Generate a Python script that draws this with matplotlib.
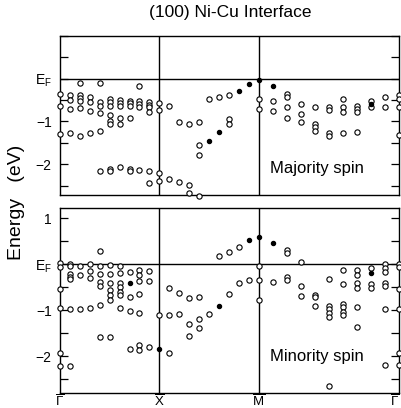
import matplotlib
matplotlib.use('Agg')
import matplotlib.pyplot as plt
import matplotlib.transforms as mtransforms
import numpy as np

plt.rcParams['font.family'] = ['Liberation Sans', 'DejaVu Sans']
plt.rcParams['mathtext.fontset'] = 'custom'
plt.rcParams['mathtext.rm'] = 'Liberation Sans'
plt.rcParams['mathtext.it'] = 'Liberation Sans:italic'

# symmetry points along the path G - X - M - G (distance in units of G-X)
sym_labels = [r'$\overline{\Gamma}$', r'$\overline{\mathrm{X}}$',
              r'$\overline{\mathrm{M}}$', r'$\overline{\Gamma}$']
sym_pos = [0.0, 1.0, 2.0, 2.0 + np.sqrt(2)]

# energies (eV rel. to E_F), one list per k point, 10 steps on each leg
majority_open = [
    [-0.36, -0.64, -1.30],
    [-0.38, -0.49, -0.71, -1.28],
    [-0.11, -0.39, -0.46, -0.52, -0.69, -1.33],
    [-0.42, -0.55, -0.75, -1.28],
    [-0.10, -0.54, -0.64, -0.81, -1.22, -2.17],
    [-0.47, -0.55, -0.64, -0.85, -1.00, -1.07, -2.10, -2.16],
    [-0.49, -0.56, -0.64, -0.91, -1.07, -2.07],
    [-0.51, -0.57, -0.63, -0.91, -2.10, -2.15],
    [-0.16, -0.53, -0.60, -0.67, -2.14],
    [-0.54, -0.62, -0.67, -0.77, -2.17, -2.43],
    [-0.56, -0.72, -2.21, -2.40],
    [-0.63, -2.35],
    [-1.01, -2.41],
    [-1.05, -2.48, -2.67],
    [-1.01, -1.56, -1.78, -2.74],
    [-0.47],
    [-0.42],
    [-0.38, -0.94, -1.05],
    [],
    [],
    [-0.47, -0.71],
    [-0.53, -0.76],
    [-0.36, -0.43, -0.65, -0.91],
    [-0.60, -0.82, -1.01],
    [-0.67, -1.07, -1.12, -1.23],
    [-0.67, -0.72, -1.27, -1.34],
    [-0.47, -0.67, -0.78, -1.27],
    [-0.64, -0.70, -0.78, -1.25],
    [-0.51, -0.65],
    [-0.43, -0.67],
    [-0.38, -0.47, -0.67, -1.31],
]
majority_filled_k = [15, 16, 18, 19, 20, 21, 28]
majority_filled_E = [-1.45, -1.25, -0.28, -0.12, -0.04, -0.17, -0.58]

minority_open = [
    [0.03, -0.07, -0.53, -0.96, -1.94, -2.21],
    [0.01, -0.04, -0.21, -0.28, -0.33, -0.97, -2.21],
    [-0.04, -0.24, -0.97],
    [0.01, -0.15, -0.30, -0.96],
    [0.28, -0.04, -0.22, -0.38, -0.48, -0.89, -1.58],
    [-0.02, -0.22, -0.42, -0.57, -0.67, -0.77, -1.58],
    [-0.04, -0.20, -0.42, -0.49, -0.60, -0.67, -0.96],
    [-0.17, -0.71, -1.02, -1.85],
    [-0.13, -0.24, -0.37, -0.64, -1.07, -1.76, -1.87],
    [-0.15, -0.37, -1.80],
    [-1.11],
    [-0.51, -1.11, -1.92],
    [-0.62, -1.09],
    [-0.73, -1.30, -1.56],
    [-0.71, -1.20, -1.38],
    [-1.09],
    [0.18],
    [0.27, -0.64],
    [0.38, -0.42],
    [-0.35],
    [-0.04, -0.35, -0.77],
    [-0.38],
    [0.31, 0.25, -0.28, -0.34],
    [0.05, -0.48, -0.70],
    [-0.66, -0.72, -0.91],
    [-0.33, -0.90, -0.97, -1.07, -1.15, -2.64],
    [-0.13, -0.44, -0.86, -0.93, -1.04, -1.10],
    [-0.13, -0.24, -0.41, -0.51, -0.93, -1.36],
    [-0.09, -0.43, -0.52],
    [0.00, -0.09, -0.16, -0.40, -0.48, -0.98, -2.20],
    [0.01, -0.07, -0.55, -0.97, -1.94, -2.20],
]
minority_filled_k = [7, 10, 16, 19, 20, 21, 28]
minority_filled_E = [-0.41, -1.85, -0.91, 0.52, 0.58, 0.47, -0.19]


def kpos(i):
    # k index 0..30 -> distance along the path
    i = np.asarray(i, dtype=float)
    return np.where(i <= 20, i / 10.0, 2.0 + (i - 20) / 10.0 * np.sqrt(2))


def flatten(cols):
    ks, es = [], []
    for i, col in enumerate(cols):
        ks += [i] * len(col)
        es += col
    return kpos(ks), np.array(es)


fig = plt.figure(figsize=(4.01, 4.08), dpi=100)
ax1 = fig.add_axes([60/401, 1 - 195/408, 339/401, 159/408])
ax2 = fig.add_axes([60/401, 1 - 393/408, 339/401, 185/408])

panels = [
    (ax1, majority_open, majority_filled_k, majority_filled_E, (-2.72, 0.74),
     [-2, -1, 0], ['\u22122', '\u22121', r'E$_\mathrm{F}$'], 'Majority spin', -2.09),
    (ax2, minority_open, minority_filled_k, minority_filled_E, (-2.80, 1.22),
     [-2, -1, 0, 1], ['\u22122', '\u22121', r'E$_\mathrm{F}$', '1'], 'Minority spin', -2.0),
]

for ax, opn, fk, fe, ylim, yt, ytl, label, ly in panels:
    x, e = flatten(opn)
    ax.plot(x, e, 'o', ms=3.8, mfc='white', mec='black', mew=0.8,
            clip_on=False, zorder=3)
    ax.plot(kpos(fk), fe, 'o', ms=2.9, mfc='black', mec='black',
            clip_on=False, zorder=4)
    ax.axhline(0, color='black', lw=1.0, zorder=1)
    for p in sym_pos[1:3]:
        ax.axvline(p, color='black', lw=1.0, zorder=1)
    ax.set_xlim(sym_pos[0], sym_pos[-1])
    ax.set_ylim(*ylim)
    ax.set_yticks(yt)
    ax.set_yticklabels(ytl)
    ax.set_yticks(np.arange(-2.5, 1.01, 0.5), minor=True)
    ax.tick_params(axis='y', which='both', direction='in', left=True,
                   right=True, length=5.5, width=0.9, labelsize=10, pad=6)
    ax.set_xticks([])
    for s in ax.spines.values():
        s.set_linewidth(1.0)
    ax.text(2.12, ly, label, fontsize=12, va='center', ha='left')

# symmetry point labels sit at the very bottom of the figure
trans = mtransforms.blended_transform_factory(ax2.transData, fig.transFigure)
for p, lab, ha in zip(sym_pos, sym_labels, ['center', 'center', 'center', 'right']):
    ax2.text(p, 1.5/408, lab, transform=trans, ha=ha, va='baseline', fontsize=9.5)

fig.text(0.575, 1 - 13/408, '(100) Ni-Cu Interface', ha='center', va='center',
         fontsize=12.5)
fig.text(0.040, 1 - 202/408, 'Energy   (eV)', rotation=90, ha='center',
         va='center', fontsize=14)

fig.savefig('out.png', dpi=100)
